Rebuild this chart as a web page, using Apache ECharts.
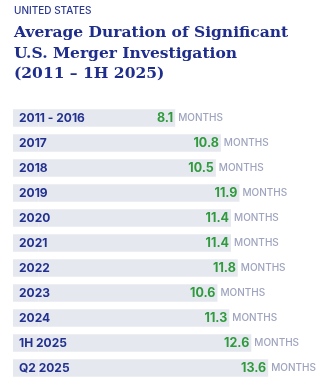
<!DOCTYPE html>
<html><head><meta charset="utf-8">
<script src="https://cdn.jsdelivr.net/npm/echarts@6/dist/echarts.min.js"></script>
<style>html,body{margin:0;padding:0;background:#fff}#c{width:321px;height:388px}</style>
</head><body><div id="c"></div>
<script>
const categories = ['2011 - 2016','2017','2018','2019','2020','2021','2022','2023','2024','1H 2025','Q2 2025'];
const months = [8.1,10.8,10.5,11.9,11.4,11.4,11.8,10.6,11.3,12.6,13.6];
const unitLabel = 'MONTHS';
const BASE = 1.5;

const chart = echarts.init(document.getElementById('c'), null, {renderer:'canvas'});
chart.setOption({
  animation:false,
  title:[
    {text:'UNITED STATES', left:14, top:6, padding:0, textStyle:{fontFamily:'Inter', fontSize:10, fontWeight:500, color:'#2b3990'}},
    {text:'Average Duration of Significant\nU.S. Merger Investigation\n(2011 – 1H 2025)', left:14, top:23, padding:0,
     textStyle:{fontFamily:'DejaVu Serif', fontSize:15.5, fontWeight:'bold', color:'#1f2e8c', lineHeight:20.5}}
  ],
  grid:{left:13, right:0, top:105.5, bottom:7.5},
  xAxis:{type:'value', min:0, max:(321-13)/16.9, show:false},
  yAxis:{type:'category', data:categories, inverse:true, axisLine:{show:false}, axisTick:{show:false},
    axisLabel:{inside:true, margin:6, color:'#22318f', fontFamily:'Inter', fontWeight:'bold', fontSize:12}, z:10},
  series:[
    {type:'bar', stack:'s', data:categories.map(()=>BASE), barWidth:17.5, itemStyle:{color:'#e6e8f0'}, silent:true},
    {type:'bar', stack:'s', data:months, barWidth:17.5, itemStyle:{color:'#e6e8f0'},
     label:{show:true, position:'insideRight', distance:2, color:'#2e9a3c', fontFamily:'Inter', fontWeight:'bold', fontSize:12.5,
       formatter:p=>p.value.toFixed(1)}},
    {type:'scatter', data:months.map(v=>v+BASE), symbolSize:0,
     label:{show:true, position:'right', distance:3, formatter:unitLabel, color:'#868cae', fontFamily:'Inter', fontWeight:500, fontSize:10}}
  ]
});
</script></body></html>
